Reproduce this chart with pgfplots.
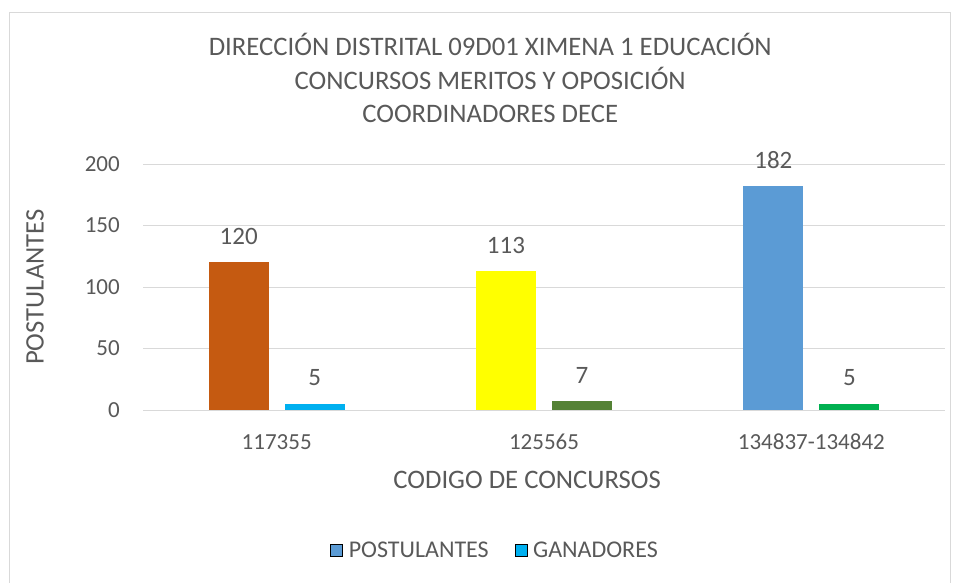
\documentclass[border=0pt]{standalone}
\usepackage{fontspec}
\setmainfont{Carlito}
\usepackage{pgfplots}
\pgfplotsset{compat=1.18}
\definecolor{txt}{HTML}{595959}
\definecolor{gridc}{HTML}{D9D9D9}
\definecolor{corange}{HTML}{C55A11}
\definecolor{ccyan}{HTML}{00B0F0}
\definecolor{cyellow}{HTML}{FFFF00}
\definecolor{cdgreen}{HTML}{548235}
\definecolor{cblue}{HTML}{5B9BD5}
\definecolor{cgreen}{HTML}{00B050}
\begin{document}
\begin{tikzpicture}[x=1pt,y=1pt]
\useasboundingbox (0,0) rectangle (955,582);
\draw[gridc, line width=1pt] (9,-5) -- (9,569) -- (950,569) -- (950,-5);
\begin{axis}[
  at={(143pt,172pt)}, anchor=south west,
  scale only axis, width=802pt, height=246pt,
  xmin=-0.5, xmax=2.5, ymin=0, ymax=200,
  xtick={0,1,2}, xticklabels={117355,125565,134837-134842},
  ytick={0,50,100,150,200},
  axis line style={draw=none},
  major tick length=0pt,
  ymajorgrids, grid style={gridc, line width=1pt},
  /pgf/number format/assume math mode=true,
  tick label style={font=\fontsize{23}{26}\selectfont, text=txt, inner sep=0pt},
  yticklabel style={anchor=east, xshift=-23pt},
  xticklabel style={anchor=north, yshift=-24pt},
  title={DIRECCIÓN DISTRITAL 09D01 XIMENA 1 EDUCACIÓN\\CONCURSOS MERITOS Y OPOSICIÓN\\COORDINADORES DECE},
  title style={align=center, font=\fontsize{26.7}{33.5}\selectfont, text=txt,
    at={(rel axis cs:0.433,1.325)}, anchor=center},
  xlabel={CODIGO DE CONCURSOS},
  xlabel style={font=\fontsize{26.7}{30}\selectfont, text=txt,
    at={(rel axis cs:0.479,-0.285)}, anchor=center},
  ylabel={POSTULANTES},
  ylabel style={font=\fontsize{26.7}{30}\selectfont, text=txt,
    at={(rel axis cs:-0.1347,0.5)}, anchor=center},
  nodes near coords,
  every node near coord/.append style={font=\fontsize{25}{28}\selectfont, text=txt, anchor=center, yshift=26pt},
  legend image code/.code={\fill[#1] (0pt,-6pt) rectangle (12pt,6pt); \path (16pt,0pt);},
  legend style={at={(rel axis cs:0.439,-0.569)}, anchor=center, draw=none,
    legend columns=2, font=\fontsize{24}{27}\selectfont, text=txt,
    /tikz/every even column/.append style={column sep=24pt}},
]
% POSTULANTES
\addplot[ybar, bar width=60pt, bar shift=-38pt, fill=corange, draw=none, forget plot,
  every node near coord/.append style={xshift=-38pt}] coordinates {(0,120)};
\addplot[ybar, bar width=60pt, bar shift=-38pt, fill=cyellow, draw=none, forget plot,
  every node near coord/.append style={xshift=-38pt}] coordinates {(1,113)};
\addplot[ybar, bar width=60pt, bar shift=-38pt, fill=cblue, draw=none, forget plot,
  every node near coord/.append style={xshift=-38pt}] coordinates {(2,182)};
% GANADORES
\addplot[ybar, bar width=60pt, bar shift=38pt, fill=ccyan, draw=none, forget plot,
  every node near coord/.append style={xshift=38pt}] coordinates {(0,5)};
\addplot[ybar, bar width=60pt, bar shift=38pt, fill=cdgreen, draw=none, forget plot,
  every node near coord/.append style={xshift=38pt}] coordinates {(1,7)};
\addplot[ybar, bar width=60pt, bar shift=38pt, fill=cgreen, draw=none, forget plot,
  every node near coord/.append style={xshift=38pt}] coordinates {(2,5)};
\addlegendimage{fill=cblue}
\addlegendentry{POSTULANTES}
\addlegendimage{fill=ccyan}
\addlegendentry{GANADORES}
\end{axis}
\end{tikzpicture}
\end{document}
